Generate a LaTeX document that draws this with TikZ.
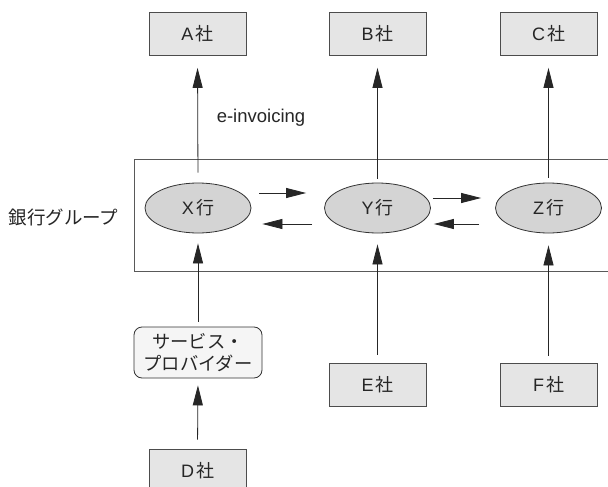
\documentclass[tikz,border=0pt]{standalone}
\usepackage{fontspec}
\setmainfont{Liberation Sans}
\newfontfamily\jp{Noto Sans CJK JP}
\usetikzlibrary{arrows.meta,shapes.geometric}
\begin{document}
\begin{tikzpicture}[x=1pt,y=-1pt,
  txt/.style={text=black!85},
  firm/.style={txt, draw=black!70, fill=black!10, line width=0.8pt, minimum width=97pt, minimum height=43pt, inner sep=0pt, font=\fontsize{18}{20}\selectfont},
  bank/.style={txt, ellipse, draw=black!80, fill=black!17, line width=0.8pt, minimum width=106pt, minimum height=50pt, inner sep=0pt, font=\fontsize{18}{20}\selectfont},
  provider/.style={txt, draw=black!80, fill=black!4, rounded corners=8pt, line width=0.8pt, minimum width=128pt, minimum height=51pt, inner sep=0pt, align=center, font=\fontsize{18.3}{22}\selectfont\jp},
  group/.style={draw=black!65, line width=1.1pt, minimum width=520pt, minimum height=112pt, inner sep=0pt, anchor=north west},
  arr/.style={-{Triangle[length=20pt,width=10pt]}, line width=0.8pt, draw=black!85},
]
\clip (0,0) rectangle (608,487);
\fill[white] (0,0) rectangle (608,487);
% bank group frame
\node[group] (grp) at (134,159) {};
\node[txt, font=\fontsize{18.5}{20}\selectfont\jp] (grplbl) at (63.5,217) {銀行グループ};
% companies
\node[firm] (A) at (197.5,34) {A\kern2pt{\jp 社}};
\node[firm] (B) at (377.5,34) {B\kern2pt{\jp 社}};
\node[firm] (C) at (548.5,34) {C\kern2pt{\jp 社}};
\node[firm] (E) at (377.5,384.5) {E\kern2pt{\jp 社}};
\node[firm] (F) at (548.5,384.5) {F\kern2pt{\jp 社}};
\node[firm] (D) at (197.5,470.5) {D\kern2pt{\jp 社}};
% banks
\node[bank] (X) at (198,208) {X\kern2pt{\jp 行}};
\node[bank] (Y) at (377.5,208) {Y\kern2pt{\jp 行}};
\node[bank] (Z) at (548.5,208) {Z\kern2pt{\jp 行}};
% service provider
\node[provider] (SP) at (198,352.5) {サービス・\\プロバイダー};
% label
\node[txt, font=\fontsize{18.5}{20}\selectfont] (einv) at (261,118) {e-invoicing};
% vertical arrows
\draw[arr, shorten <=10pt, shorten >=12pt] (X.north) -- (A.south);
\draw[arr, shorten <=4pt, shorten >=12pt] (Y.north) -- (B.south);
\draw[arr, shorten <=5pt, shorten >=12pt] (Z.north) -- (C.south);
\draw[arr, shorten <=5pt, shorten >=10pt] (SP.north) -- (X.south);
\draw[arr, shorten <=8pt, shorten >=11pt] (E.north) -- (Y.south);
\draw[arr, shorten <=7pt, shorten >=12pt] (F.north) -- (Z.south);
\draw[arr, shorten <=9pt, shorten >=7pt] (D.north) -- (SP.south);
% horizontal arrows between banks
\draw[arr, shorten <=8pt, shorten >=18pt] ([yshift=15pt]X.east) -- ([yshift=15pt]Y.west);
\draw[arr, shorten <=12pt, shorten >=11pt] ([yshift=-16pt]Y.west) -- ([yshift=-16pt]X.east);
\draw[arr, shorten <=2pt, shorten >=14pt] ([yshift=10pt]Y.east) -- ([yshift=10pt]Z.west);
\draw[arr, shorten <=16pt, shorten >=3pt] ([yshift=-16pt]Z.west) -- ([yshift=-16pt]Y.east);
\end{tikzpicture}
\end{document}
